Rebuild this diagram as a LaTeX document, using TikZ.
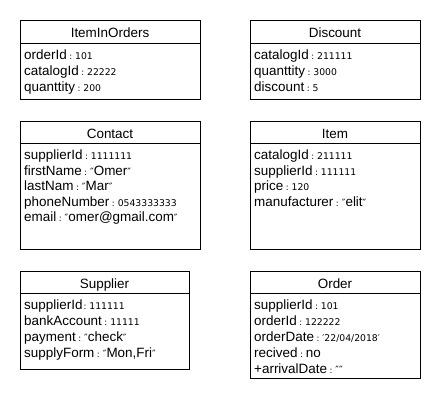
\documentclass[tikz,border=0pt]{standalone}
\usepackage{fontspec}
\setmainfont{Liberation Sans}
\newfontfamily\smallfam{DejaVu Sans}
\usetikzlibrary{fit}
\newcommand\vsm[1]{{\smallfam\fontsize{9.3}{10}\selectfont #1}}
\newcommand\cl{\hspace{2.5bp}{\smallfam\fontsize{8.5}{9}\selectfont :}\hspace{3bp}}
\newcommand\dq{{\smallfam\fontsize{10}{10}\selectfont ″}}
\tikzset{
  classbox/.style={draw, line width=0.8bp, inner sep=0pt},
  sepline/.style={line width=0.8bp},
  ctitle/.style={anchor=base, inner sep=0pt, font=\fontsize{13.5}{15}\selectfont},
  attr/.style={anchor=base west, inner sep=0pt, font=\fontsize{13.5}{15}\selectfont},
}
\begin{document}
\begin{tikzpicture}[x=1bp,y=-1bp]
\fill[white] (0,0) rectangle (440,400);
\useasboundingbox (0,0) rectangle (440,400);

% ItemInOrders
\node[classbox, fit={(20,20) (200,99)}] (iio) {};
\draw[sepline] (20,43) -- (200,43);
\node[ctitle] (iio-t) at (110,37) {ItemInOrders};
\node[attr] (iio-1) at (24,59.5) {orderId\cl\vsm{101}};
\node[attr] (iio-2) at (24,75.5) {catalogId\cl\vsm{22222}};
\node[attr] (iio-3) at (24,91.5) {quanttity\cl\vsm{200}};

% Discount
\node[classbox, fit={(250,20) (420,99)}] (dis) {};
\draw[sepline] (250,43) -- (420,43);
\node[ctitle] (dis-t) at (335,37) {Discount};
\node[attr] (dis-1) at (254,59.5) {catalogId\cl\vsm{211111}};
\node[attr] (dis-2) at (254,75.5) {quanttity\cl\vsm{3000}};
\node[attr] (dis-3) at (254,91.5) {discount\cl\vsm{5}};

% Contact
\node[classbox, fit={(20,121) (200,249)}] (con) {};
\draw[sepline] (20,143) -- (200,143);
\node[ctitle] (con-t) at (110,138) {Contact};
\node[attr] (con-1) at (24,159.5) {supplierId\cl\vsm{1111111}};
\node[attr] (con-2) at (24,175) {firstName\cl\dq Omer\dq};
\node[attr] (con-3) at (24,190.5) {lastNam\cl\dq Mar\dq};
\node[attr] (con-4) at (24,206) {phoneNumber\cl\vsm{0543333333}};
\node[attr] (con-5) at (24,221.5) {email\cl\dq omer@gmail.com\dq};

% Item
\node[classbox, fit={(250,121) (420,249)}] (itm) {};
\draw[sepline] (250,143) -- (420,143);
\node[ctitle] (itm-t) at (335,138) {Item};
\node[attr] (itm-1) at (254,159.5) {catalogId\cl\vsm{211111}};
\node[attr] (itm-2) at (254,175) {supplierId\cl\vsm{111111}};
\node[attr] (itm-3) at (254,190.5) {price\cl\vsm{120}};
\node[attr] (itm-4) at (254,206) {manufacturer\cl\dq elit\dq};

% Supplier
\node[classbox, fit={(20,271) (189,369)}] (sup) {};
\draw[sepline] (20,293.5) -- (189,293.5);
\node[ctitle] (sup-t) at (104.5,288) {Supplier};
\node[attr] (sup-1) at (24,309.5) {supplierId\hspace{1bp}{\smallfam\fontsize{8.5}{9}\selectfont :}\hspace{3bp}\vsm{111111}};
\node[attr] (sup-2) at (24,325.5) {bankAccount\cl\vsm{11111}};
\node[attr] (sup-3) at (24,341.5) {payment\cl\dq check\dq};
\node[attr] (sup-4) at (24,357.5) {supplyForm\cl\dq Mon,Fri\dq};

% Order
\node[classbox, fit={(250,271) (420,378)}] (ord) {};
\draw[sepline] (250,293.5) -- (420,293.5);
\node[ctitle] (ord-t) at (335,288) {Order};
\node[attr] (ord-1) at (254,309.5) {supplierId\cl\vsm{101}};
\node[attr] (ord-2) at (254,325.5) {orderId\cl\vsm{122222}};
\node[attr] (ord-3) at (254,341.5) {orderDate\cl\vsm{′22/04/2018′}};
\node[attr] (ord-4) at (254,357.5) {recived\cl no};
\node[attr] (ord-5) at (254,373.5) {+arrivalDate\cl\dq\dq};
\end{tikzpicture}
\end{document}
